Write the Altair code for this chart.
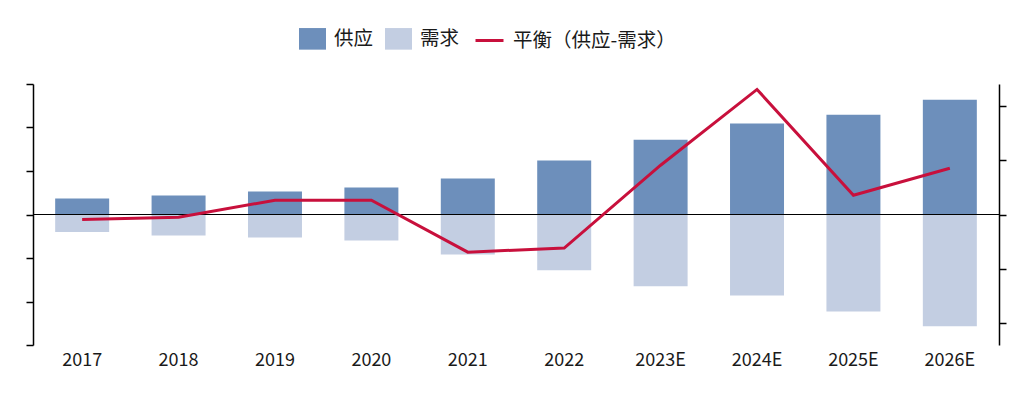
import altair as alt
import pandas as pd

years = ["2017", "2018", "2019", "2020", "2021", "2022", "2023E", "2024E", "2025E", "2026E"]
supply = [36.7, 43.6, 52.8, 62, 82.6, 124, 172, 209, 229.5, 264]
demand = [-40, -48, -53, -60, -92, -128, -165, -186, -223, -257]
balance = [-0.46, -0.25, 1.31, 1.31, -3.46, -3.09, 4.53, 11.5, 1.77, 4.25]

bar_types = ["供应", "需求"]
line_name = "平衡（供应-需求）"
colors = ["#6d8fbb", "#c3cee2"]
line_color = "#c8103c"
FONT = "Noto Sans CJK SC"

bars_df = pd.DataFrame(
    {"年份": years * 2, "类型": [bar_types[0]] * len(years) + [bar_types[1]] * len(years),
     "值": supply + demand}
)
line_df = pd.DataFrame({"年份": years, "平衡": balance, "系列": [line_name] * len(years)})

x_axis = alt.Axis(domain=False, ticks=False, tickSize=0, labelAngle=0,
                  labelFont=FONT, labelFontSize=18, labelColor="#1a1a1a",
                  labelPadding=6)
x_scale = alt.Scale(paddingInner=0.44, paddingOuter=0.23)

rect_path = "M-1,-0.8H1V0.8H-1Z"

bars = alt.Chart(bars_df).mark_bar().encode(
    x=alt.X("年份:N", sort=years, title=None, scale=x_scale, axis=x_axis),
    y=alt.Y("值:Q", title=None,
            scale=alt.Scale(domain=[-300, 300], nice=False, zero=True),
            axis=alt.Axis(orient="left", values=[-300, -200, -100, 0, 100, 200, 300],
                          labels=False, grid=False, domainColor="#000", domainWidth=1.5,
                          tickColor="#000", tickWidth=1.5, tickSize=7)),
    fill=alt.Fill("类型:N", scale=alt.Scale(domain=bar_types, range=colors),
                  legend=alt.Legend(title=None, orient="none", direction="horizontal",
                                    legendX=266, legendY=-59, symbolType=rect_path,
                                    symbolSize=729, symbolStrokeWidth=0, symbolOpacity=1,
                                    labelFont=FONT, labelFontSize=19.5, labelColor="#1a1a1a",
                                    labelOffset=8, columnPadding=11, padding=0, labelLimit=300)),
)

zero = alt.Chart(bars_df).mark_rule(color="#000", strokeWidth=1.1).encode(
    y=alt.datum(0)
)

line = alt.Chart(line_df).mark_line(strokeWidth=3).encode(
    x=alt.X("年份:N", sort=years, title=None, scale=x_scale, axis=x_axis),
    y=alt.Y("平衡:Q", title=None,
            scale=alt.Scale(domain=[-12, 12], nice=False),
            axis=alt.Axis(orient="right", values=[-10, -5, 0, 5, 10], labels=False,
                          grid=False, domainColor="#000", domainWidth=1.5,
                          tickColor="#000", tickWidth=1.5, tickSize=7)),
    stroke=alt.Stroke("系列:N", scale=alt.Scale(domain=[line_name], range=[line_color]),
                      legend=alt.Legend(title=None, orient="none", legendX=441, legendY=-59,
                                        symbolType="stroke", symbolSize=784,
                                        symbolStrokeWidth=3,
                                        labelFont=FONT, labelFontSize=19.5, labelColor="#1a1a1a",
                                        labelOffset=8, padding=0, labelLimit=400)),
)

chart = alt.layer(alt.layer(bars, zero), line).resolve_scale(
    y="independent", fill="independent", stroke="independent"
).properties(
    width=966, height=261,
    background="white",
    autosize=alt.AutoSizeParams(type="none"),
    padding={"left": 25, "top": 76, "right": 17, "bottom": 41},
).configure_view(strokeWidth=0, stroke=None).configure_axis(grid=False)

chart.save("out.html", embed_options={"renderer": "svg", "actions": False})
